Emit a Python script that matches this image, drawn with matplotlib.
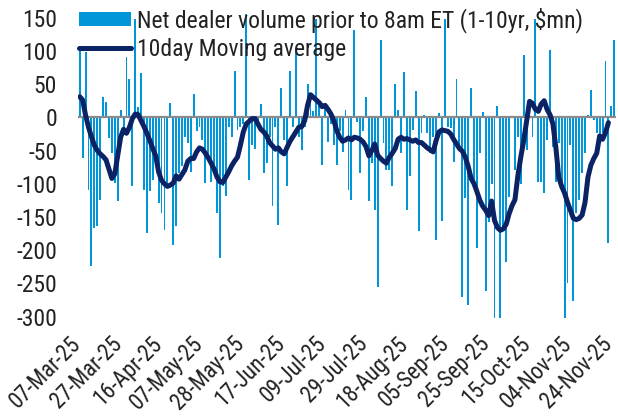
import numpy as np
import pandas as pd
import matplotlib
matplotlib.use("Agg")
import matplotlib.pyplot as plt
from matplotlib import font_manager as fm
from matplotlib.patches import Patch
from matplotlib.lines import Line2D
from matplotlib.transforms import ScaledTranslation

# ---------------- data ----------------
start_date = "2025-03-07"
n_days = 184
market_holidays = ["2025-04-18", "2025-05-26", "2025-06-19", "2025-07-04"]
dates = pd.bdate_range(start=start_date, periods=n_days, freq="C", holidays=market_holidays)

net_volume = [
    100, -61, 98, -109, -224, -166, -164, -124, 31, 23,
    -31, -54, -99, -126, 11, -20, 91, 57, -104, 148,
    15, 66, -109, -174, -111, -94, -60, -129, -144, -169,
    -104, 22, -192, -164, -84, -74, -29, -39, -82, 35,
    -21, -14, -34, -99, -59, -97, -74, -144, -212, -104,
    -119, -14, -30, 70, -19, -14, -10, 156, -94, -42,
    -47, -8, 20, -84, -69, -30, -134, -14, -162, 44,
    -34, -104, 69, -14, 104, -29, -49, -15, 50, 26,
    10, 148, 21, -72, 16, -37, -10, -42, -72, -20,
    -52, 11, -109, -124, 132, -7, -84, -20, 31, -126,
    -69, -139, -255, 117, -39, -79, -79, -104, 50, 11,
    -54, 68, -139, -89, -19, 40, -171, -24, 4, -24,
    -54, -30, -184, 6, -156, 148, -14, -16, -67, 58,
    -49, -270, -122, -282, 44, -94, -197, -54, 8, -262,
    -157, -101, -302, 17, -302, -169, -217, -120, 1, -79,
    -29, -101, 94, -49, 26, -29, 148, -97, -97, -114,
    -34, 101, -44, -97, -39, -104, -302, -250, -42, -277,
    -144, -124, -84, -54, 4, 41, -4, -24, -29, -24,
    84, -189, 17, 116,
]

moving_avg = [
    31, 26, 3, -15, -29, -42, -50, -55, -59, -64,
    -78, -92, -85, -58, -30, -18, -24, -15, -2, 5,
    4, -5, -14, -24, -35, -47, -58, -82, -95, -100,
    -104, -102, -99, -88, -93, -86, -79, -66, -62, -62,
    -52, -46, -48, -54, -61, -69, -78, -90, -97, -98,
    -90, -82, -73, -66, -60, -42, -22, -10, -6, -2,
    -2, -10, -18, -22, -28, -38, -43, -48, -46, -52,
    -55, -45, -36, -29, -22, -15, -14, -5, 18, 34,
    30, 26, 22, 16, 18, 12, 5, -5, -20, -30,
    -36, -34, -31, -34, -30, -31, -33, -37, -44, -58,
    -50, -40, -57, -62, -66, -69, -60, -54, -47, -33,
    -30, -33, -32, -34, -36, -34, -38, -38, -42, -46,
    -49, -52, -35, -22, -19, -20, -21, -25, -33, -40,
    -47, -51, -60, -74, -92, -100, -112, -125, -134, -140,
    -148, -126, -155, -166, -170, -168, -161, -145, -133, -124,
    -88, -60, -35, -5, 24, 21, 12, 9, 20, 25,
    12, 4, -10, -45, -90, -104, -114, -128, -140, -152,
    -154, -152, -147, -128, -90, -72, -62, -54, -28, -33,
    -23, -8, np.nan, np.nan,
]

y_ticks = [150, 100, 50, 0, -50, -100, -150, -200, -250, -300]
label_step = 14
bar_label = "Net dealer volume prior to 8am ET (1-10yr, $mn)"
line_label = "10day Moving average"

# ---------------- font selection ----------------
def pick_font():
    entries = fm.fontManager.ttflist
    def ok(f):
        return f.style == "normal" and f.weight in (400, "normal", "regular")
    prefs = ["semi-condensed", "condensed"]
    for st in prefs:
        for f in entries:
            if ok(f) and f.stretch == st and ("Noto Sans" in f.name or "Open Sans" in f.name
                                              or "Roboto" in f.name):
                return f.name, st
    for f in entries:
        if ok(f) and ("Narrow" in f.name or "Condensed" in f.name):
            return f.name, f.stretch
    return "Open Sans", "normal"

FONT, STRETCH = pick_font()
plt.rcParams["font.family"] = [FONT, "DejaVu Sans"]
plt.rcParams["font.stretch"] = STRETCH

BAR_C = "#0096D8"
LINE_C = "#0B2265"
TXT_C = "#222222"

W, H = 618, 419
fig = plt.figure(figsize=(W / 100, H / 100), dpi=100)

# calibrate font size so the legend text spans the same width as the reference
renderer = fig.canvas.get_renderer()
probe = fig.text(0, 0, bar_label, fontsize=15)
pw = probe.get_window_extent(renderer).width
probe.remove()
FS = 15 * 470 / pw
FS = min(FS, 17.0)

ax = fig.add_axes([78 / W, 101 / H, (616 - 78) / W, (318 - 10) / H])

x = np.arange(len(net_volume))
ax.bar(x, net_volume, width=0.65, color=BAR_C, zorder=2)
ax.axhline(0, color="#8a8a8a", lw=1.6, zorder=3)
ax.plot(x, moving_avg, color=LINE_C, lw=3.6, solid_capstyle="round",
        solid_joinstyle="round", zorder=4)

ax.set_xlim(-0.6, len(net_volume) - 0.4)
ax.set_ylim(-302, 161.5)

for s in ax.spines.values():
    s.set_visible(False)

ax.set_yticks(y_ticks)
ax.set_yticklabels([str(v) for v in y_ticks])
ax.tick_params(axis="y", length=0, pad=15, labelsize=FS, labelcolor=TXT_C)

tick_idx = list(range(0, len(net_volume), label_step))
ax.set_xticks(tick_idx)
ax.set_xticklabels([dates[i].strftime("%d-%b-%y") for i in tick_idx],
                   rotation=45, ha="right", va="center", rotation_mode="anchor")
ax.tick_params(axis="x", length=0, pad=16, labelsize=FS * 0.96, labelcolor=TXT_C)
for lab in ax.get_xticklabels():
    lab.set_transform(lab.get_transform() + ScaledTranslation(-2.5 / 100, 0, fig.dpi_scale_trans))

fs_px = FS * 100 / 72
handles = [Patch(facecolor=BAR_C, edgecolor="none"),
           Line2D([0], [0], color=LINE_C, lw=3.6, solid_capstyle="round")]
leg = ax.legend(handles, [bar_label, line_label], loc="upper left",
                bbox_to_anchor=(79 / W, 1 - 7 / H), bbox_transform=fig.transFigure,
                frameon=False, fontsize=FS, handlelength=52 / fs_px, handleheight=13 / fs_px,
                handletextpad=6 / fs_px, labelspacing=29 / fs_px - 1.0,
                borderpad=0, borderaxespad=0)
for t in leg.get_texts():
    t.set_color(TXT_C)

fig.savefig("out.png", dpi=100)
